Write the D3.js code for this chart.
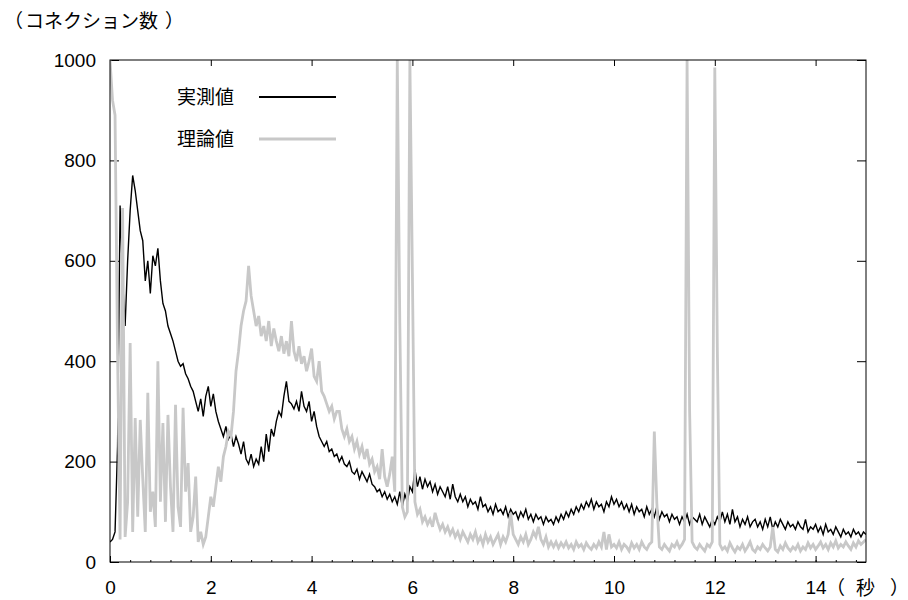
<!DOCTYPE html>
<html>
<head>
<meta charset="utf-8">
<style type="text/css">
    body { margin: 0; background: #fff; }
    svg text.num { font-family: "Liberation Sans", Arial, sans-serif; font-size: 19px; fill: #000; }
    svg text.jp { font-family: "Noto Sans CJK JP", sans-serif; font-size: 19px; fill: #000; }
    .frame { fill: none; stroke: #000; stroke-width: 1; }
    .tick line { stroke: #000; }
</style>
</head>
<body>
<svg id="graph" width="908" height="600"></svg>
<script src="https://d3js.org/d3.v7.min.js"></script>
<script type="text/javascript">
// sample step of both series (seconds)
var stepSec = 0.05;

var xTicks = [0, 2, 4, 6, 8, 10, 12, 14];
var yTicks = [0, 200, 400, 600, 800, 1000];

var seriesNames = ["実測値", "理論値"];

// 実測値, one row per second
var measured = [
    40, 45, 60, 230, 710, 560, 470, 600, 700, 770, 740, 700, 660, 640, 560, 600, 535, 610, 590, 625,
    560, 515, 500, 470, 455, 440, 420, 400, 390, 395, 375, 365, 350, 340, 320, 300, 325, 290, 330, 350,
    310, 335, 300, 280, 265, 250, 270, 245, 255, 230, 250, 235, 215, 240, 205, 195, 215, 190, 205, 195,
    230, 200, 255, 220, 265, 250, 280, 300, 290, 330, 360, 320, 315, 305, 320, 300, 340, 310, 300, 320,
    280, 300, 270, 250, 240, 230, 240, 220, 225, 210, 215, 200, 210, 195, 190, 200, 180, 175, 185, 165,
    180, 170, 160, 175, 155, 150, 140, 145, 130, 140, 125, 135, 120, 130, 115, 140, 110, 135, 120, 150,
    140, 185, 150, 170, 145, 165, 150, 160, 140, 155, 135, 150, 140, 130, 150, 125, 155, 130, 120, 135,
    120, 130, 110, 125, 115, 120, 105, 130, 110, 115, 100, 110, 95, 115, 100, 105, 95, 110, 90, 105,
    95, 100, 85, 100, 90, 105, 85, 95, 80, 95, 85, 90, 75, 90, 80, 85, 75, 90, 80, 95,
    85, 100, 90, 105, 95, 110, 100, 115, 105, 120, 110, 125, 105, 120, 110, 115, 100, 120, 110, 130,
    115, 125, 110, 120, 105, 115, 100, 115, 95, 110, 100, 105, 90, 110, 95, 105, 90, 110, 85, 100,
    90, 95, 80, 95, 85, 90, 75, 90, 80, 95, 75, 90, 85, 80, 95, 75, 90, 80, 70, 85,
    75, 90, 80, 100, 80, 95, 75, 105, 80, 90, 70, 85, 75, 90, 70, 80, 85, 70, 80, 65,
    85, 70, 90, 65, 80, 70, 85, 75, 65, 80, 70, 75, 65, 80, 70, 65, 85, 60, 70, 65,
    75, 60, 70, 55, 75, 60, 65, 55, 70, 60, 50, 65, 55, 60, 50, 65, 55, 60, 50, 60,
    55
];

// 理論値, one row per second
var theory = [
    1000, 920, 890, 415, 45, 705, 50, 120, 436, 60, 287, 90, 283, 165, 60, 337, 100, 140, 70, 400,
    120, 277, 80, 293, 150, 60, 313, 110, 70, 307, 140, 197, 60, 90, 170, 40, 60, 35, 50, 90,
    130, 110, 150, 190, 160, 210, 230, 260, 250, 300, 380, 420, 470, 500, 520, 590, 530, 500, 470, 490,
    450, 470, 440, 480, 430, 465, 440, 420, 450, 415, 440, 410, 480, 420, 400, 430, 395, 410, 380, 400,
    425, 370, 360, 400, 340, 330, 315, 300, 310, 285, 300, 300, 265, 250, 265, 240, 250, 225, 240, 215,
    230, 205, 225, 195, 205, 180, 190, 165, 225, 170, 150, 175, 210, 140, 1000, 476, 110, 90, 100, 1000,
    572, 120, 95, 105, 80, 90, 75, 85, 70, 98, 80, 65, 75, 60, 70, 55, 65, 50, 60, 45,
    60, 50, 40, 55, 45, 60, 40, 50, 35, 55, 40, 50, 35, 45, 55, 35, 50, 40, 55, 98,
    55, 45, 35, 50, 40, 55, 35, 45, 60, 50, 70, 45, 35, 50, 30, 40, 30, 40, 28, 38,
    30, 40, 28, 35, 25, 40, 30, 35, 25, 38, 30, 25, 35, 28, 40, 30, 60, 25, 55, 30,
    35, 28, 40, 25, 35, 30, 22, 38, 28, 35, 25, 40, 30, 25, 35, 40, 260, 117, 30, 25,
    35, 28, 22, 35, 30, 40, 28, 35, 45, 1000, 303, 40, 30, 25, 35, 28, 22, 35, 30, 40,
    985, 425, 35, 25, 30, 22, 38, 28, 20, 30, 25, 35, 22, 30, 40, 25, 20, 30, 25, 35,
    28, 22, 30, 70, 25, 20, 32, 25, 38, 28, 22, 30, 25, 35, 22, 30, 25, 38, 28, 35,
    25, 32, 40, 28, 35, 25, 38, 30, 42, 28, 35, 30, 40, 32, 25, 38, 30, 42, 35, 40,
    45
];

var svg = d3.select("#graph");

var margin = {left: 110, right: 42, top: 60, bottom: 38};
var width = 908 - margin.left - margin.right;
var height = 600 - margin.top - margin.bottom;

var x = d3.scaleLinear().domain([0, 15]).range([0, width]);
var y = d3.scaleLinear().domain([0, 1000]).range([height, 0]);

var g = svg.append("g").attr("transform", "translate(" + margin.left + "," + margin.top + ")");

g.append("clipPath").attr("id", "plot-clip")
    .append("rect").attr("width", width).attr("height", height);

// axes: ticks point inwards, labels only bottom / left
g.append("g").attr("transform", "translate(0," + height + ")")
    .call(d3.axisBottom(x).tickValues(xTicks).tickSize(-6).tickPadding(19).tickFormat(d3.format("d")));
g.append("g").attr("transform", "translate(0," + height + ")")
    .call(d3.axisBottom(x).tickValues(d3.range(0, 15.01, 0.4)).tickSize(-2).tickFormat(""));
g.append("g")
    .call(d3.axisTop(x).tickValues(xTicks).tickSize(-6).tickFormat(""));
g.append("g")
    .call(d3.axisLeft(y).tickValues(yTicks).tickSize(-9).tickPadding(14).tickFormat(d3.format("d")));
g.append("g").attr("transform", "translate(" + width + ",0)")
    .call(d3.axisRight(y).tickValues(yTicks).tickSize(-9).tickFormat(""));

g.selectAll(".domain").remove();
g.selectAll(".tick text").attr("class", "num").attr("font-family", null).attr("font-size", null);

var line = d3.line()
    .x(function(d, i) { return x(i * stepSec); })
    .y(function(d) { return y(d); });

var plot = g.append("g").attr("clip-path", "url(#plot-clip)");

plot.append("path").datum(measured)
    .attr("fill", "none").attr("stroke", "#000").attr("stroke-width", 1.4)
    .attr("stroke-linejoin", "miter").attr("d", line);

plot.append("path").datum(theory)
    .attr("fill", "none").attr("stroke", "#c8c8c8").attr("stroke-width", 2.8)
    .attr("stroke-linejoin", "miter").attr("d", line);

g.append("rect").attr("class", "frame").attr("width", width).attr("height", height);

// legend
var legend = g.append("g");
var legendColors = ["#000", "#c8c8c8"];
var legendWidths = [2, 3];
seriesNames.forEach(function(name, i) {
    var ly = 37 + i * 42;
    legend.append("text").attr("class", "jp")
        .attr("x", 67).attr("y", ly).attr("dy", "0.36em").text(name);
    legend.append("line")
        .attr("x1", 149).attr("x2", 226).attr("y1", ly).attr("y2", ly)
        .attr("stroke", legendColors[i]).attr("stroke-width", legendWidths[i]);
});

// axis titles, brackets set apart as in the original
function bracketed(xs, yPos, body) {
    svg.append("text").attr("class", "jp").attr("x", xs[0]).attr("y", yPos).text("（");
    svg.append("text").attr("class", "jp").attr("x", xs[1]).attr("y", yPos).text(body);
    svg.append("text").attr("class", "jp").attr("x", xs[2]).attr("y", yPos).text("）");
}
bracketed([4, 25, 165], 28, "コネクション数");
bracketed([826, 856, 890], 595, "秒");
</script>
</body>
</html>
